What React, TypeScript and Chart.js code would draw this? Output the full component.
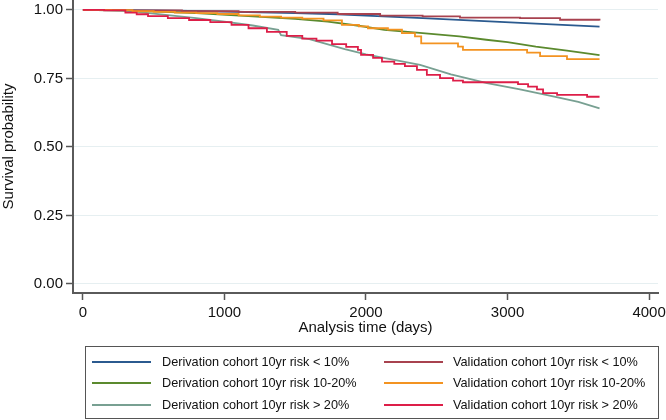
import React, { useEffect, useRef } from "react";
import { Chart, registerables } from "chart.js";

Chart.register(...registerables);

// ---- Data ----
const derLowT = [0, 500, 1000, 1500, 1800, 2000, 2400, 2800, 3200, 3650];
const derLowS = [1, 0.998, 0.994, 0.988, 0.984, 0.979, 0.97, 0.96, 0.95, 0.939];

const derMidT = [0, 400, 800, 1200, 1500, 1730, 1950, 2130, 2400, 2660, 2850, 3000, 3200, 3420, 3650];
const derMidS = [1, 0.996, 0.988, 0.976, 0.967, 0.957, 0.942, 0.927, 0.915, 0.903, 0.891, 0.882, 0.866, 0.851, 0.835];

const derHighT = [0, 300, 500, 800, 1000, 1200, 1380, 1400, 1600, 1850, 2000, 2134, 2382, 2600, 2855, 3088, 3322, 3500, 3650];
const derHighS = [1, 0.997, 0.986, 0.97, 0.957, 0.943, 0.927, 0.908, 0.893, 0.857, 0.838, 0.824, 0.799, 0.765, 0.733, 0.71, 0.684, 0.664, 0.641];

const valLowT = [0, 300, 700, 1100, 1500, 1800, 2100, 2400, 2664, 3088, 3371, 3650];
const valLowS = [1, 0.998, 0.995, 0.993, 0.99, 0.985, 0.979, 0.976, 0.972, 0.97, 0.964, 0.961];

const valMidT = [0, 200, 350, 500, 650, 800, 950, 1100, 1250, 1400, 1550, 1700, 1830, 1950, 2014, 2155, 2254, 2346, 2390, 2650, 2685, 3138, 3230, 3420, 3650];
const valMidS = [1, 0.999, 0.995, 0.993, 0.99, 0.988, 0.985, 0.98, 0.975, 0.972, 0.968, 0.962, 0.945, 0.94, 0.933, 0.928, 0.915, 0.903, 0.878, 0.866, 0.854, 0.844, 0.831, 0.82, 0.82];

const valHighT = [0, 150, 300, 380, 460, 600, 750, 900, 1050, 1170, 1300, 1440, 1550, 1650, 1760, 1860, 1943, 1965, 2050, 2113, 2200, 2275, 2360, 2430, 2523, 2615, 2685, 3074, 3145, 3208, 3251, 3350, 3562, 3650];
const valHighS = [1, 0.998, 0.99, 0.984, 0.977, 0.97, 0.963, 0.955, 0.945, 0.933, 0.92, 0.905, 0.895, 0.888, 0.875, 0.865, 0.854, 0.836, 0.825, 0.811, 0.803, 0.795, 0.781, 0.763, 0.751, 0.742, 0.736, 0.729, 0.72, 0.71, 0.696, 0.69, 0.683, 0.683];

const xTicks = [0, 1000, 2000, 3000, 4000];
const yTicks = [0, 0.25, 0.5, 0.75, 1];

const seriesLabels = [
  "Derivation cohort 10yr risk < 10%",
  "Derivation cohort 10yr risk 10-20%",
  "Derivation cohort 10yr risk > 20%",
  "Validation cohort 10yr risk < 10%",
  "Validation cohort 10yr risk 10-20%",
  "Validation cohort 10yr risk > 20%",
];
const seriesColors = ["#2b5a8f", "#5b8a2e", "#78a092", "#a8424f", "#f39321", "#dd1e48"];

const FONT = "'Liberation Sans', Arial, Helvetica, sans-serif";

function pts(t: number[], s: number[]) {
  return t.map((x, i) => ({ x, y: s[i] }));
}

export default function App() {
  const ref = useRef<HTMLCanvasElement | null>(null);

  useEffect(() => {
    if (!ref.current) return;
    const series = [
      { t: derLowT, s: derLowS, stepped: false },
      { t: derMidT, s: derMidS, stepped: false },
      { t: derHighT, s: derHighS, stepped: false },
      { t: valLowT, s: valLowS, stepped: true },
      { t: valMidT, s: valMidS, stepped: true },
      { t: valHighT, s: valHighS, stepped: true },
    ];
    const datasets = series
      .map((d, i) => ({
        label: seriesLabels[i],
        data: pts(d.t, d.s),
        borderColor: seriesColors[i],
        backgroundColor: seriesColors[i],
        borderWidth: 1.8,
        pointRadius: 0,
        fill: false,
        tension: 0,
        stepped: d.stepped ? ("before" as const) : false,
      }))
      .reverse();

    const chart = new Chart(ref.current, {
      type: "line",
      data: { datasets },
      options: {
        animation: false,
        responsive: false,
        maintainAspectRatio: false,
        events: [],
        layout: { padding: { top: 0, right: 8, bottom: 80, left: 0 } },
        plugins: { legend: { display: false }, tooltip: { enabled: false } },
        scales: {
          x: {
            type: "linear",
            min: -70,
            max: 4063,
            afterBuildTicks: (scale: any) => {
              scale.ticks = xTicks.map((v) => ({ value: v }));
            },
            afterFit: (scale: any) => {
              scale.height = 47;
              scale.paddingLeft = 0;
              scale.paddingRight = 0;
            },
            ticks: {
              font: { family: FONT, size: 15 },
              color: "#111",
              padding: 4,
              maxRotation: 0,
              autoSkip: false,
              callback: (v: any) => String(v),
            },
            grid: {
              drawOnChartArea: false,
              drawTicks: true,
              tickLength: 7,
              tickColor: "#555",
              tickWidth: 1.5,
            },
            border: { display: true, color: "#5a5a5a", width: 2 },
            title: {
              display: true,
              text: "Analysis time (days)",
              font: { family: FONT, size: 15 },
              color: "#111",
              padding: { top: 0, bottom: 3 },
            },
          },
          y: {
            type: "linear",
            min: -0.033,
            max: 1.036,
            afterBuildTicks: (scale: any) => {
              scale.ticks = yTicks.map((v) => ({ value: v }));
            },
            afterFit: (scale: any) => {
              scale.width = 73;
              scale.paddingTop = 0;
              scale.paddingBottom = 0;
            },
            ticks: {
              font: { family: FONT, size: 15 },
              color: "#111",
              padding: 3,
              autoSkip: false,
              callback: (v: any) => Number(v).toFixed(2),
            },
            grid: {
              drawOnChartArea: true,
              color: "#e6eff1",
              lineWidth: 1,
              drawTicks: true,
              tickLength: 7,
              tickColor: "#555",
              tickWidth: 1.5,
            },
            border: { display: true, color: "#5a5a5a", width: 2 },
            title: {
              display: true,
              text: "Survival probability",
              font: { family: FONT, size: 15 },
              color: "#111",
              padding: { top: 0, bottom: 0 },
            },
          },
        },
      },
    });
    return () => chart.destroy();
  }, []);

  const rowY = [15, 36, 58];
  const legendItems = seriesLabels.map((label, i) => {
    const col = i < 3 ? 0 : 1;
    const row = i % 3;
    const lineLeft = col === 0 ? 6 : 298;
    const textLeft = col === 0 ? 76 : 367;
    return (
      <React.Fragment key={label}>
        <div
          style={{
            position: "absolute",
            left: lineLeft,
            top: rowY[row] - 1,
            width: 59,
            height: 2,
            background: seriesColors[i],
          }}
        />
        <div
          style={{
            position: "absolute",
            left: textLeft,
            top: rowY[row] - 9,
            height: 18,
            lineHeight: "18px",
            fontFamily: FONT,
            fontSize: "12.7px",
            color: "#111",
            whiteSpace: "nowrap",
          }}
        >
          {label}
        </div>
      </React.Fragment>
    );
  });

  return (
    <div style={{ position: "absolute", left: 0, top: 0, width: 666, height: 420, background: "#fff" }}>
      <canvas ref={ref} width={666} height={420} style={{ width: 666, height: 420, display: "block" }} />
      <div
        style={{
          position: "absolute",
          left: 85,
          top: 346,
          width: 574,
          height: 73,
          border: "1.5px solid #555",
          boxSizing: "border-box",
        }}
      >
        {legendItems}
      </div>
    </div>
  );
}
